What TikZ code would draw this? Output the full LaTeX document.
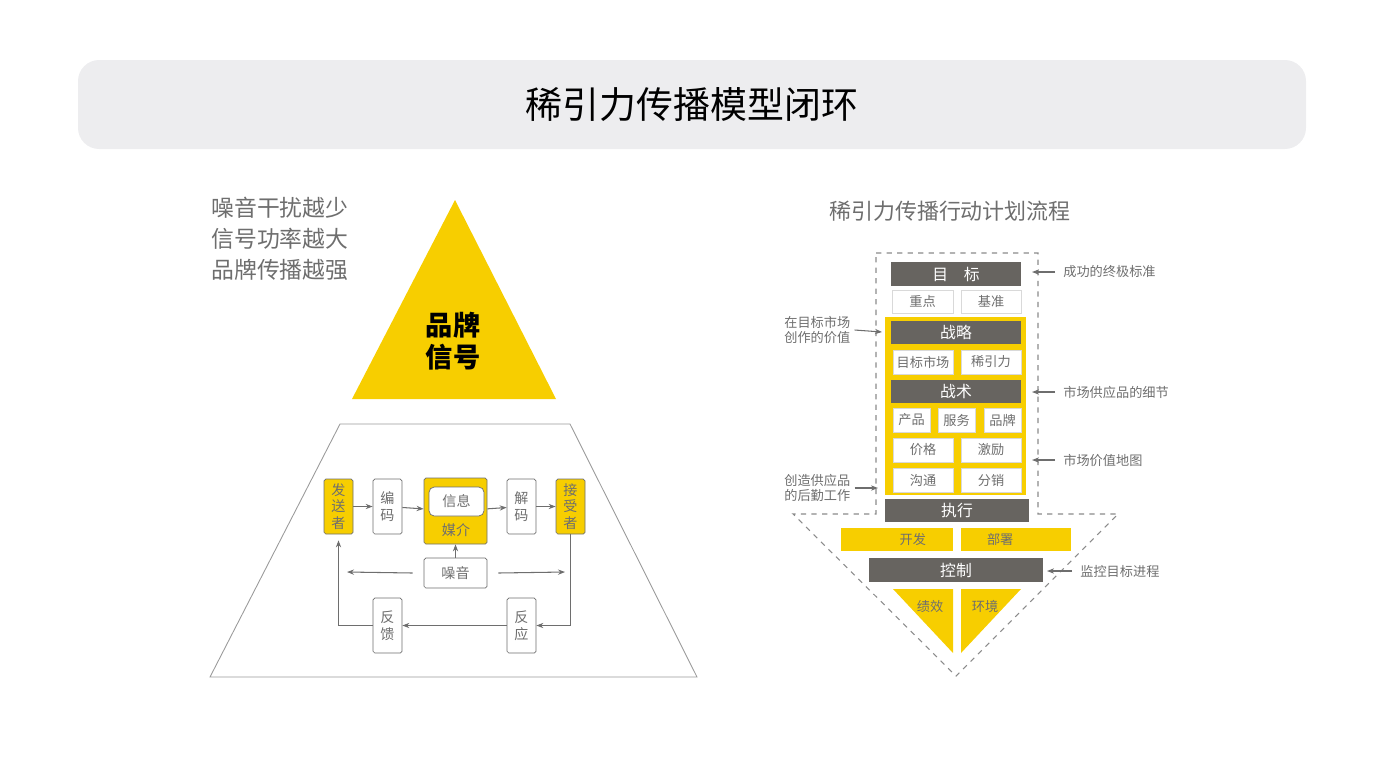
\documentclass[tikz,border=0pt]{standalone}
\usepackage{fontspec}
\setmainfont{Noto Sans CJK SC}
\usetikzlibrary{arrows.meta, positioning}
\definecolor{myyellow}{RGB}{247, 206, 0}
\definecolor{mydark}{RGB}{103, 100, 96}
\definecolor{mygray}{RGB}{110, 110, 110}
\definecolor{mybar}{RGB}{237, 237, 239}
\tikzset{
  sz/.style 2 args={minimum width=#1*0.02cm, minimum height=#2*0.02cm, inner sep=0},
  wbox/.style={draw=mygray, fill=white, rounded corners=1pt, font=\fontsize{8}{9.5}\selectfont, text=mygray, align=center},
  ybox/.style={draw=mygray, fill=myyellow, rounded corners=1pt, font=\fontsize{8}{9.5}\selectfont, text=mygray, align=center},
  dbox/.style={fill=mydark, text=white, font=\fontsize{9}{10}\selectfont},
  cell/.style={fill=white, draw=black!15, font=\fontsize{7.5}{9}\selectfont, text=mygray},
  ycell/.style={fill=myyellow, font=\fontsize{7.5}{9}\selectfont, text=mygray},
  note/.style={font=\fontsize{7.5}{9}\selectfont, text=mygray, align=left, inner sep=0},
  arr/.style={draw=mygray, -{Stealth[length=4pt]}, line width=0.6pt},
}
\begin{document}
\begin{tikzpicture}[x=0.02cm, y=-0.02cm]
\useasboundingbox (0,0) rectangle (1385,775);

%%% title
\fill[mybar, rounded corners=12pt] (78,60) rectangle (1306,149);
\node (title) at (692,105) {\fontsize{21}{24}\selectfont 稀引力传播模型闭环};

%%% left: signal
\node[anchor=north west, align=left, text=mygray, font=\fontsize{13}{17.5}\selectfont, inner sep=0] (slogan) at (211,197) {噪音干扰越少\\信号功率越大\\品牌传播越强};
\fill[myyellow] (455,200) -- (556,399) -- (352,399) -- cycle;
\node[font=\fontsize{15.5}{18}\selectfont\bfseries, align=center] (brand) at (453,341) {品牌\\信号};
\draw[mygray!70, line width=0.5pt] (210,677) -- (340,424) -- (570,424) -- (697,677) -- cycle;

\node[ybox, sz={29}{55}] (sender) at (338.5,506.5) {发\\送\\者};
\node[wbox, sz={29}{55}] (enc) at (387.5,506.5) {编\\码};
\node[ybox, sz={63}{66}] (media) at (455.5,511) {};
\node[wbox, sz={55}{29}, rounded corners=3pt] (msg) at (456.5,501.5) {信息};
\node[font=\fontsize{8}{9.5}\selectfont, text=mygray] (medlbl) at (456,530) {媒介};
\node[wbox, sz={29}{55}] (dec) at (521.5,506.5) {解\\码};
\node[ybox, sz={29}{55}] (recv) at (570.5,506.5) {接\\受\\者};
\node[wbox, sz={63}{30}] (noise) at (455.5,573) {噪音};
\node[wbox, sz={29}{55}] (fb) at (387.5,625.5) {反\\馈};
\node[wbox, sz={29}{55}] (resp) at (521.5,625.5) {反\\应};
\coordinate (nl) at (347,572);
\coordinate (nr) at (565,572);

\draw[arr] (sender) -- (enc);
\draw[arr] (enc) -- (media);
\draw[arr] (media) -- (dec);
\draw[arr] (dec) -- (recv);
\draw[arr] (noise) -- (media);
\draw[arr] ([xshift=-11*0.02cm]noise.west) -- (nl);
\draw[arr] ([xshift=11*0.02cm]noise.east) -- (nr);
\draw[arr] (recv.south) |- (resp.east);
\draw[arr] (resp) -- (fb);
\draw[arr] (fb.west) -| ([yshift=-6*0.02cm]sender.south);

%%% right: action plan
\node[text=mygray, font=\fontsize{12.5}{14}\selectfont] (plan) at (950,211) {稀引力传播行动计划流程};
\draw[mygray!80, dashed, line width=0.6pt] (876,253) -- (1038,253) -- (1038,514) -- (1118,514) -- (956,676) -- (793,514) -- (876,514) -- cycle;
\fill[myyellow] (885,317) rectangle (1026,495);

\node[dbox, sz={130}{24}] (goal) at (956,274) {目\quad 标};
\node[cell, sz={61}{23}] (focus) at (922.5,301.5) {重点};
\node[cell, sz={60}{23}] (bench) at (991,301.5) {基准};
\node[dbox, sz={130}{23}] (strat) at (956,332.5) {战略};
\node[cell, sz={60}{24}] (mkt) at (923,362) {目标市场};
\node[cell, sz={60}{24}] (pull) at (991,362) {稀引力};
\node[dbox, sz={130}{23}] (tact) at (956,391.5) {战术};
\node[cell, sz={37}{24}] (prod) at (911.5,420) {产品};
\node[cell, sz={37}{24}] (serv) at (956.5,420) {服务};
\node[cell, sz={37}{24}] (bnd) at (1002.5,420) {品牌};
\node[cell, sz={60}{24}] (price) at (923,450) {价格};
\node[cell, sz={60}{24}] (incent) at (991,450) {激励};
\node[cell, sz={60}{24}] (comm) at (923,480) {沟通};
\node[cell, sz={60}{24}] (dist) at (991,480) {分销};
\node[dbox, sz={144}{23}] (exec) at (957,510.5) {执行};
\node[ycell, sz={112}{23}] (dev) at (897,539.5) {\hspace*{18pt}开发};
\node[ycell, sz={110}{23}] (dep) at (1016,539.5) {部署\hspace*{18pt}};
\node[dbox, sz={174}{24}] (ctrl) at (956,570) {控制};
\fill[myyellow] (893,589) -- (953,589) -- (953,653) -- cycle;
\fill[myyellow] (961,589) -- (1021,589) -- (961,653) -- cycle;
\node[note] (perf) at (930,606) {绩效};
\node[note] (env) at (985,606) {环境};

\node[note, anchor=west] (n1) at (1063,272) {成功的终极标准};
\node[note, anchor=west] (n2) at (1063,392) {市场供应品的细节};
\node[note, anchor=west] (n3) at (1063,460) {市场价值地图};
\node[note, anchor=west] (n4) at (1080,571) {监控目标进程};
\node[note, anchor=west] (n5) at (784,330) {在目标市场\\创作的价值};
\node[note, anchor=west] (n6) at (784,488) {创造供应品\\的后勤工作};
\coordinate (a1) at (1032,272);
\coordinate (a2) at (1032,392);
\coordinate (a3) at (1032,460);
\coordinate (a4) at (1047,571);
\coordinate (a5) at (882,332);
\coordinate (a6) at (878,488);
\draw[arr] ([xshift=-8*0.02cm]n1.west) -- (a1);
\draw[arr] ([xshift=-8*0.02cm]n2.west) -- (a2);
\draw[arr] ([xshift=-8*0.02cm]n3.west) -- (a3);
\draw[arr] ([xshift=-8*0.02cm]n4.west) -- (a4);
\draw[arr] ([xshift=4*0.02cm]n5.east) -- (a5);
\draw[arr] ([xshift=4*0.02cm]n6.east) -- (a6);
\end{tikzpicture}
\end{document}
